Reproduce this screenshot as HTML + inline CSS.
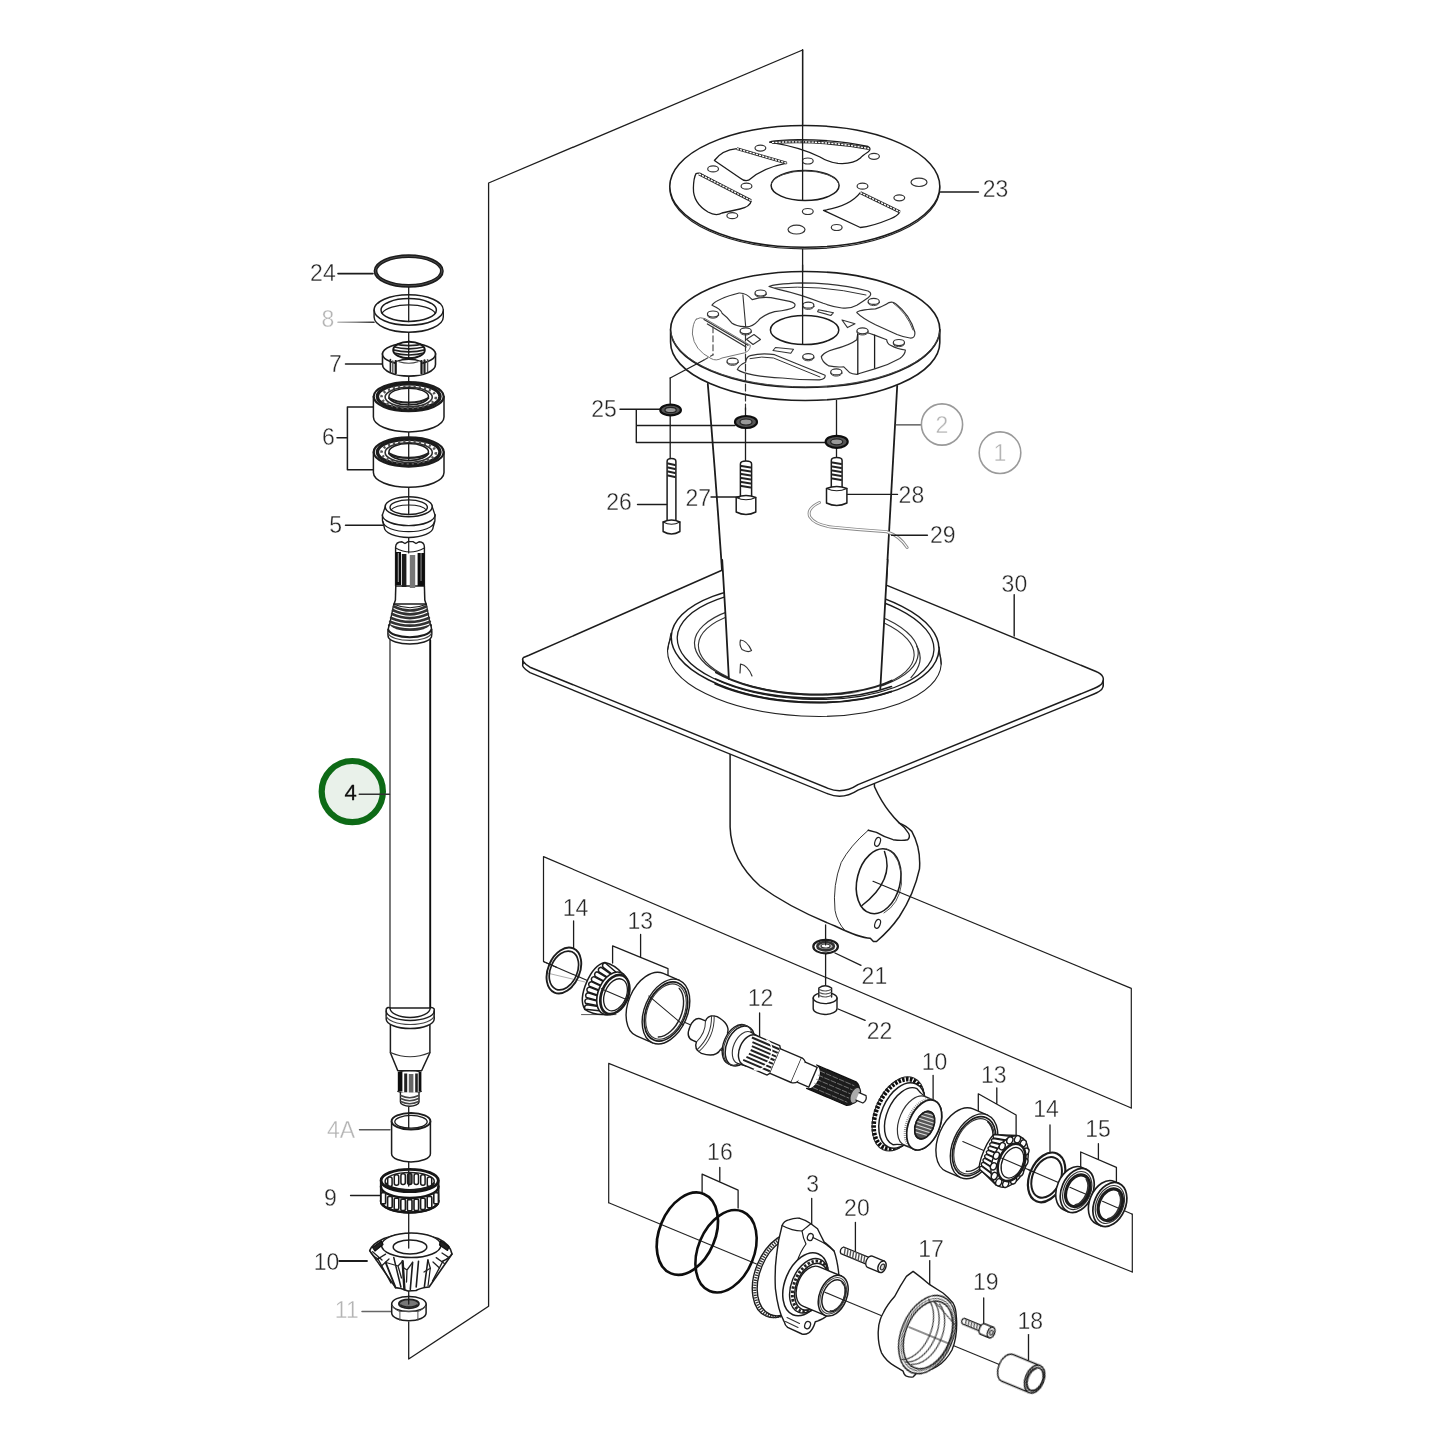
<!DOCTYPE html>
<html><head><meta charset="utf-8"><style>
html,body{margin:0;padding:0;background:#fff;}
svg{display:block;font-family:"Liberation Sans",sans-serif;}
</style></head><body>
<svg width="1445" height="1445" viewBox="0 0 1445 1445" fill="none" stroke-linecap="round" stroke-linejoin="round">
<rect x="0" y="0" width="1445" height="1445" fill="#ffffff" stroke="none"/>
<defs><filter id="soft" x="0" y="0" width="1445" height="1445" filterUnits="userSpaceOnUse"><feGaussianBlur stdDeviation="0.55"/></filter></defs>
<g filter="url(#soft)">
<path d="M802.6,50 L488.6,183 L488.6,1306.3 L408.7,1359 L408.7,1322" stroke="#1c1c1c" stroke-width="1.3" fill="none" />
<line x1="802.6" y1="50" x2="802.6" y2="199.5" stroke="#1c1c1c" stroke-width="1.3" />
<line x1="802.6" y1="247.5" x2="802.6" y2="343.5" stroke="#1c1c1c" stroke-width="1.3" />
<line x1="408.7" y1="287" x2="408.7" y2="322" stroke="#1c1c1c" stroke-width="1.3" />
<line x1="408.7" y1="332" x2="408.7" y2="357" stroke="#1c1c1c" stroke-width="1.3" />
<line x1="408.7" y1="376" x2="408.7" y2="405" stroke="#1c1c1c" stroke-width="1.3" />
<line x1="408.7" y1="432" x2="408.7" y2="461" stroke="#1c1c1c" stroke-width="1.3" />
<line x1="408.7" y1="488" x2="408.7" y2="514" stroke="#1c1c1c" stroke-width="1.3" />
<line x1="408.7" y1="538" x2="408.7" y2="553" stroke="#1c1c1c" stroke-width="1.3" />
<line x1="408.7" y1="1107" x2="408.7" y2="1128" stroke="#1c1c1c" stroke-width="1.3" />
<line x1="408.7" y1="1162" x2="408.7" y2="1186" stroke="#1c1c1c" stroke-width="1.3" />
<line x1="408.7" y1="1213" x2="408.7" y2="1247" stroke="#1c1c1c" stroke-width="1.3" />
<line x1="408.7" y1="1291" x2="408.7" y2="1303" stroke="#1c1c1c" stroke-width="1.3" />
<line x1="338" y1="273.6" x2="373" y2="273.6" stroke="#1c1c1c" stroke-width="1.6" />
<line x1="338" y1="322.3" x2="374" y2="322.3" stroke="url(#g8)" stroke-width="1.6"/>
<defs><linearGradient id="g8" gradientUnits="userSpaceOnUse" x1="338" y1="0" x2="374" y2="0"><stop offset="0" stop-color="#bbb"/><stop offset="0.5" stop-color="#888"/><stop offset="1" stop-color="#333"/></linearGradient></defs>
<line x1="345.5" y1="364" x2="382.7" y2="364" stroke="#1c1c1c" stroke-width="1.5" />
<path d="M337,437.8 L347.4,437.8 M373.7,407 L347.4,407 L347.4,469.7 L373.7,469.7" stroke="#1c1c1c" stroke-width="1.5" fill="none" />
<line x1="345.5" y1="525.3" x2="382.7" y2="525.3" stroke="#1c1c1c" stroke-width="1.5" />
<line x1="359.5" y1="1129.7" x2="390" y2="1129.7" stroke="#555" stroke-width="1.5" />
<line x1="350.6" y1="1195.4" x2="380.7" y2="1195.4" stroke="#1c1c1c" stroke-width="1.5" />
<line x1="338" y1="1261" x2="367" y2="1261" stroke="#1c1c1c" stroke-width="1.8" />
<line x1="362" y1="1311.5" x2="392" y2="1311.5" stroke="#666" stroke-width="1.5" />
<ellipse cx="408.7" cy="271" rx="33.2" ry="14.8" stroke="#1a1a1a" stroke-width="3.8" fill="none" />
<ellipse cx="408.7" cy="271" rx="33.2" ry="14.8" stroke="#777" stroke-width="0.5" fill="none" />
<path d="M374.09999999999997,310 L374.09999999999997,317 A34.6,15.2 0 0 0 443.3,317 L443.3,310" stroke="#1c1c1c" stroke-width="1.4" fill="#fff" />
<ellipse cx="408.7" cy="310" rx="34.6" ry="15.2" stroke="#1c1c1c" stroke-width="1.5" fill="#fff" />
<ellipse cx="408.7" cy="310" rx="27.7" ry="11.4" stroke="#1c1c1c" stroke-width="1.5" fill="none" />
<path d="M382.0,313.2 A27.7,11.4 0 0 1 435.4,313.2" stroke="#1c1c1c" stroke-width="1.2" fill="none" />
<line x1="408.7" y1="295" x2="408.7" y2="321.5" stroke="#1c1c1c" stroke-width="1.3" />
<path d="M382.5,353.5 L382.5,364.5 A26.5,11.6 0 0 0 435.5,364.5 L435.5,353.5" stroke="#1c1c1c" stroke-width="1.6" fill="#fff" />
<ellipse cx="409" cy="354" rx="26.5" ry="10.7" stroke="#1c1c1c" stroke-width="1.6" fill="#fff" />
<ellipse cx="409" cy="350" rx="15.8" ry="8.3" stroke="#151515" stroke-width="1.9" fill="#fff" />
<defs><clipPath id="c7"><ellipse cx="409" cy="350" rx="15.4" ry="8"/></clipPath></defs><g clip-path="url(#c7)">
<path d="M393,343.6 Q409,347.8 425,343.6" stroke="#222" stroke-width="1.7" fill="none" />
<path d="M393,346.7 Q409,350.9 425,346.7" stroke="#222" stroke-width="1.7" fill="none" />
<path d="M393,349.8 Q409,354.0 425,349.8" stroke="#222" stroke-width="1.7" fill="none" />
<path d="M393,352.9 Q409,357.09999999999997 425,352.9" stroke="#222" stroke-width="1.7" fill="none" />
<path d="M393,356 Q409,360.2 425,356" stroke="#222" stroke-width="1.7" fill="none" />
</g>
<rect x="395.7" y="361.5" width="26.6" height="13" fill="#fff" stroke="none"/>
<path d="M395.7,361 L395.7,373.6 M421.5,361 L421.5,373.6" stroke="#151515" stroke-width="2.2" fill="none" />
<path d="M395.7,361.5 Q409,357 421.5,361.5" stroke="#1c1c1c" stroke-width="1.3" fill="none" />
<path d="M399,361.8 Q409,364.8 418,361.8" stroke="#444" stroke-width="1.1" fill="none" />
<path d="M390.4,359.6 L390.4,371.6" stroke="#222" stroke-width="1.6" fill="none" />
<path d="M392.8,361 L392.8,372.6" stroke="#555" stroke-width="1.4" fill="none" />
<path d="M424.5,360.4 L424.5,372.6" stroke="#222" stroke-width="2.2" fill="none" />
<path d="M427.6,359.6 L427.6,371.6" stroke="#555" stroke-width="1.4" fill="none" />
<line x1="408.7" y1="341" x2="408.7" y2="358" stroke="#1c1c1c" stroke-width="1.3" />
<path d="M373.4,396.6 L373.4,417.1 A35.3,14.8 0 0 0 444.0,417.1 L444.0,396.6" stroke="#1c1c1c" stroke-width="1.5" fill="#fff" />
<ellipse cx="408.7" cy="396.6" rx="35.0" ry="14.6" stroke="#1c1c1c" stroke-width="2.2" fill="#fff" />
<ellipse cx="408.7" cy="396.6" rx="31.3" ry="12.8" stroke="#1a1a1a" stroke-width="3.4" fill="none" />
<ellipse cx="408.7" cy="397.1" rx="27.2" ry="11" stroke="#555" stroke-width="2.6" fill="none" stroke-dasharray="2.2 3" stroke-linecap="butt"/>
<ellipse cx="408.7" cy="397.1" rx="23.6" ry="9.8" stroke="#333" stroke-width="1.6" fill="none" />
<ellipse cx="408.7" cy="396.6" rx="19.8" ry="8.4" stroke="#1c1c1c" stroke-width="1.5" fill="#fff" />
<path d="M389.09999999999997,398.1 A23.6,10 0 0 0 428.3,398.1" stroke="#222" stroke-width="2.2" fill="none" />
<line x1="408.7" y1="388.20000000000005" x2="408.7" y2="405.0" stroke="#1c1c1c" stroke-width="1.3" />
<path d="M373.4,452 L373.4,472.5 A35.3,14.8 0 0 0 444.0,472.5 L444.0,452" stroke="#1c1c1c" stroke-width="1.5" fill="#fff" />
<ellipse cx="408.7" cy="452" rx="35.0" ry="14.6" stroke="#1c1c1c" stroke-width="2.2" fill="#fff" />
<ellipse cx="408.7" cy="452" rx="31.3" ry="12.8" stroke="#1a1a1a" stroke-width="3.4" fill="none" />
<ellipse cx="408.7" cy="452.5" rx="27.2" ry="11" stroke="#555" stroke-width="2.6" fill="none" stroke-dasharray="2.2 3" stroke-linecap="butt"/>
<ellipse cx="408.7" cy="452.5" rx="23.6" ry="9.8" stroke="#333" stroke-width="1.6" fill="none" />
<ellipse cx="408.7" cy="452" rx="19.8" ry="8.4" stroke="#1c1c1c" stroke-width="1.5" fill="#fff" />
<path d="M389.09999999999997,453.5 A23.6,10 0 0 0 428.3,453.5" stroke="#222" stroke-width="2.2" fill="none" />
<line x1="408.7" y1="443.6" x2="408.7" y2="460.4" stroke="#1c1c1c" stroke-width="1.3" />
<path d="M382.4,515 Q381.7,521 384.2,527 A24.5,10.5 0 0 0 433.2,527 Q435.7,521 435.0,515" stroke="#1c1c1c" stroke-width="1.4" fill="#fff" />
<path d="M383.09999999999997,521.5 A25.6,10.2 0 0 0 434.3,521.5" stroke="#1c1c1c" stroke-width="1.2" fill="none" />
<path d="M382.4,515 A26.3,10.6 0 0 0 435.0,515" stroke="#1c1c1c" stroke-width="1.4" fill="#fff" />
<path d="M385.2,506.7 L382.4,515 M432.2,506.7 L435.0,515" stroke="#1c1c1c" stroke-width="1.3" fill="none" />
<ellipse cx="408.7" cy="506.7" rx="23.5" ry="10" stroke="#1c1c1c" stroke-width="1.5" fill="#fff" />
<ellipse cx="408.7" cy="507.2" rx="18.7" ry="7.3" stroke="#1c1c1c" stroke-width="1.4" fill="none" />
<path d="M390.9,510 A18.7,7.3 0 0 1 426.5,510" stroke="#1c1c1c" stroke-width="1.1" fill="none" />
<line x1="408.7" y1="497" x2="408.7" y2="514.5" stroke="#1c1c1c" stroke-width="1.3" />
<path d="M395.6,586 L395.6,547 Q395.8,542 402,541.8 L405,543.5 L408,541.6 L413,541.6 L416,543.5 L419,541.8 Q424.3,542 424.4,547 L424.4,586 Z" stroke="#1c1c1c" stroke-width="1.4" fill="#fff" />
<path d="M395.6,548 Q410.0,556 424.4,548" stroke="#1c1c1c" stroke-width="1.2" fill="none" />
<rect x="395.6" y="552" width="5.4" height="33" fill="#111" stroke="none"/>
<rect x="397.8" y="553" width="0.9" height="29" fill="#bbb" stroke="none"/>
<rect x="401.8" y="554" width="4.6" height="33" fill="#1a1a1a" stroke="none"/>
<rect x="409.8" y="555" width="5.4" height="33" fill="#777" stroke="none"/>
<rect x="417.6" y="553" width="6.8" height="33" fill="#111" stroke="none"/>
<rect x="420.6" y="553" width="0.9" height="28" fill="#999" stroke="none"/>
<line x1="408.7" y1="541" x2="408.7" y2="553" stroke="#1c1c1c" stroke-width="1.2" />
<path d="M395.8,586 L395.4,600 L393.8,605 M424.4,586 L424.8,600 L426.3,605" stroke="#1c1c1c" stroke-width="1.5" fill="none" />
<path d="M393.8,604 L388.5,630 L431.2,630 L426.3,604 Z" stroke="#1c1c1c" stroke-width="1.3" fill="#fff" />
<path d="M394.5,604.5 Q410,611 425.8,604.5" stroke="#1c1c1c" stroke-width="1.2" fill="none" />
<path d="M394.0,606.5 Q410.0,614.5 426.0,606.5" stroke="#333" stroke-width="2.7" fill="none" />
<path d="M393.05,610.3 Q410.0,618.3 426.95,610.3" stroke="#333" stroke-width="2.7" fill="none" />
<path d="M392.1,614.1 Q410.0,622.1 427.9,614.1" stroke="#333" stroke-width="2.7" fill="none" />
<path d="M391.15,617.9 Q410.0,625.9 428.85,617.9" stroke="#333" stroke-width="2.7" fill="none" />
<path d="M390.2,621.7 Q410.0,629.7 429.8,621.7" stroke="#333" stroke-width="2.7" fill="none" />
<path d="M389.25,625.5 Q410.0,633.5 430.75,625.5" stroke="#333" stroke-width="2.7" fill="none" />
<rect x="390" y="640" width="40" height="370" fill="#fff" stroke="none"/>
<path d="M390,640 L390,1009" stroke="#333" stroke-width="1.3" fill="none" />
<path d="M430.2,640 L430.2,1009" stroke="#111" stroke-width="1.9" fill="none" />
<path d="M389.6,624 Q387.2,631 388.2,637 A21.8,8 0 0 0 431.4,637 Q432.6,631 430.4,624 A20.5,8 0 0 1 389.6,624 Z" stroke="#fff" stroke-width="0.01" fill="#fff" />
<path d="M389.6,624 Q387.2,631 388.2,637 A21.8,8 0 0 0 431.4,637 Q432.6,631 430.4,624" stroke="#1c1c1c" stroke-width="1.5" fill="none" />
<path d="M388.2,629.5 A21.7,8.5 0 0 0 431.4,629.5" stroke="#1c1c1c" stroke-width="2.0" fill="none" />
<path d="M388.3,633.5 A21.7,8 0 0 0 431.3,633.5" stroke="#444" stroke-width="1.1" fill="none" />
<path d="M390.4,1025 L390.4,1052.7 L397.8,1070.7 L421.6,1070.7 L429.9,1052.7 L429.9,1025" stroke="#1c1c1c" stroke-width="1.5" fill="#fff" />
<path d="M390.4,1052.5 Q410,1061 429.9,1052.5" stroke="#333" stroke-width="1.2" fill="none" />
<path d="M397.8,1070.5 Q409.7,1075 421.6,1070.5" stroke="#1c1c1c" stroke-width="1.3" fill="none" />
<path d="M386.2,1009 L386.2,1019 A24,9.5 0 0 0 434.2,1019 L434.2,1009 Q432,1006.5 430.2,1008 L390,1008 Q388,1006.5 386.2,1009 Z" stroke="#1c1c1c" stroke-width="1.5" fill="#fff" />
<path d="M390,1008 A20.1,9.5 0 0 0 430.2,1008" stroke="#1c1c1c" stroke-width="1.4" fill="none" />
<path d="M386.2,1011 A24,9.5 0 0 0 434.2,1011" stroke="#1c1c1c" stroke-width="1.4" fill="none" />
<path d="M386.2,1015 A24,9.5 0 0 0 434.2,1015" stroke="#444" stroke-width="1.1" fill="none" />
<rect x="397.8" y="1072" width="23.4" height="19.5" fill="#fff" stroke="none"/>
<rect x="397.8" y="1072" width="4.6" height="19.5" fill="#111" stroke="none"/>
<rect x="404.2" y="1073.5" width="3" height="19" fill="#222" stroke="none"/>
<rect x="408.8" y="1074" width="4.6" height="19" fill="#666" stroke="none"/>
<rect x="415.2" y="1073.5" width="2.6" height="19" fill="#222" stroke="none"/>
<rect x="418.6" y="1072" width="2.8" height="19.5" fill="#111" stroke="none"/>
<path d="M397.8,1091.5 Q409.5,1096 421.2,1091.5" stroke="#1c1c1c" stroke-width="1.3" fill="none" />
<path d="M400.4,1092.5 L400.4,1102 A9.3,4.2 0 0 0 419,1102 L419,1092.5" stroke="#1c1c1c" stroke-width="1.4" fill="#fff" />
<path d="M400.8,1095.5 Q409.7,1100.0 418.6,1095.5" stroke="#444" stroke-width="1.5" fill="none" />
<path d="M400.8,1098.5 Q409.7,1103.0 418.6,1098.5" stroke="#444" stroke-width="1.5" fill="none" />
<path d="M400.8,1101.5 Q409.7,1106.0 418.6,1101.5" stroke="#444" stroke-width="1.5" fill="none" />
<circle cx="352.3" cy="791.6" r="30.6" fill="#e9f1ea" stroke="#0f6a18" stroke-width="6.2"/>
<line x1="359.2" y1="794.2" x2="389.5" y2="794.2" stroke="#333" stroke-width="1.4" />
<path d="M391.6,1121.3 L391.6,1153.7 A19.4,8.3 0 0 0 430.4,1153.7 L430.4,1121.3" stroke="#1c1c1c" stroke-width="1.5" fill="#fff" />
<ellipse cx="411" cy="1121.3" rx="19.4" ry="8.3" stroke="#1c1c1c" stroke-width="2" fill="#fff" />
<ellipse cx="411" cy="1121.8" rx="16.2" ry="6.4" stroke="#1c1c1c" stroke-width="1.3" fill="none" />
<line x1="408.7" y1="1113" x2="408.7" y2="1128" stroke="#1c1c1c" stroke-width="1.3" />
<path d="M380.9,1180.5 L380.9,1201 A28.8,11.5 0 0 0 438.5,1201 L438.5,1180.5" stroke="#1c1c1c" stroke-width="2.0" fill="#fff" />
<ellipse cx="409.7" cy="1180.5" rx="28.6" ry="11.2" stroke="#151515" stroke-width="2.8" fill="#fff" />
<ellipse cx="409.7" cy="1181.2" rx="24.6" ry="8.6" stroke="#222" stroke-width="1.5" fill="#fff" />
<rect x="387.7" y="1176.9" width="4.4" height="9.6" rx="2" fill="#fff" stroke="#1a1a1a" stroke-width="1.5"/>
<rect x="394.3" y="1174.7" width="4.4" height="10.5" rx="2" fill="#fff" stroke="#1a1a1a" stroke-width="1.5"/>
<rect x="400.9" y="1173.7" width="4.4" height="10.9" rx="2" fill="#fff" stroke="#1a1a1a" stroke-width="1.5"/>
<rect x="407.5" y="1173.4" width="4.4" height="11.0" rx="2" fill="#555" stroke="#1a1a1a" stroke-width="1.5"/>
<rect x="414.1" y="1173.7" width="4.4" height="10.9" rx="2" fill="#fff" stroke="#1a1a1a" stroke-width="1.5"/>
<rect x="420.7" y="1174.7" width="4.4" height="10.5" rx="2" fill="#fff" stroke="#1a1a1a" stroke-width="1.5"/>
<rect x="427.3" y="1176.9" width="4.4" height="9.6" rx="2" fill="#fff" stroke="#1a1a1a" stroke-width="1.5"/>
<path d="M385.5,1183.2 A24.6,8.6 0 0 0 433.9,1183.2" stroke="#1a1a1a" stroke-width="2.0" fill="none" />
<path d="M380.9,1186.5 A28.8,11.5 0 0 0 438.5,1186.5" stroke="#151515" stroke-width="2.4" fill="none" />
<path d="M380.9,1201 A28.8,11.5 0 0 0 438.5,1201" stroke="#151515" stroke-width="2.4" fill="none" />
<rect x="381.0" y="1192.7" width="4.6" height="11.2" rx="1.2" fill="#fff" stroke="#1a1a1a" stroke-width="1.6"/>
<rect x="387.6" y="1196.5" width="4.6" height="11.2" rx="1.2" fill="#fff" stroke="#1a1a1a" stroke-width="1.6"/>
<rect x="394.2" y="1198.3" width="4.6" height="11.2" rx="1.2" fill="#fff" stroke="#1a1a1a" stroke-width="1.6"/>
<rect x="400.8" y="1199.3" width="4.6" height="11.2" rx="1.2" fill="#fff" stroke="#1a1a1a" stroke-width="1.6"/>
<rect x="407.4" y="1199.6" width="4.6" height="11.2" rx="1.2" fill="#fff" stroke="#1a1a1a" stroke-width="1.6"/>
<rect x="414.0" y="1199.3" width="4.6" height="11.2" rx="1.2" fill="#fff" stroke="#1a1a1a" stroke-width="1.6"/>
<rect x="420.6" y="1198.3" width="4.6" height="11.2" rx="1.2" fill="#fff" stroke="#1a1a1a" stroke-width="1.6"/>
<rect x="427.2" y="1196.5" width="4.6" height="11.2" rx="1.2" fill="#fff" stroke="#1a1a1a" stroke-width="1.6"/>
<rect x="433.8" y="1192.7" width="4.6" height="11.2" rx="1.2" fill="#fff" stroke="#1a1a1a" stroke-width="1.6"/>
<line x1="408.7" y1="1170" x2="408.7" y2="1186" stroke="#1c1c1c" stroke-width="1.3" />
<path d="M369.7,1250.6 Q372,1244 384,1238.5 Q410,1229 438,1238.5 Q450,1244 452,1254 L429.1,1287 Q420,1288 416,1290.5 L407.9,1291 L400.9,1288.5 L395.6,1287.6 Z" stroke="#1c1c1c" stroke-width="1.6" fill="#fff" />
<ellipse cx="411.2" cy="1245.3" rx="29.7" ry="12.3" stroke="#1c1c1c" stroke-width="1.5" fill="#fff" />
<ellipse cx="410" cy="1247" rx="16.8" ry="7" stroke="#1c1c1c" stroke-width="1.5" fill="#fff" />
<path d="M372.5,1247.5 L381.5,1241 L383,1244.5 L375,1251 Z" stroke="#111" stroke-width="1.2" fill="#222" />
<path d="M440.5,1241 L449,1246.5 L447.5,1250.5 L439.5,1245 Z" stroke="#111" stroke-width="1.2" fill="#222" />
<path d="M369.7,1250.6 Q372,1256 378,1259 M452,1254 Q449,1258.5 443,1261" stroke="#1c1c1c" stroke-width="1.4" fill="none" />
<path d="M385.6,1262.4 L395.6,1287.6" stroke="#1a1a1a" stroke-width="1.8" fill="none" />
<path d="M393.8,1257.6 L400.9,1287" stroke="#1a1a1a" stroke-width="1.5" fill="none" />
<path d="M402.6,1261.2 L404.4,1289.4" stroke="#1a1a1a" stroke-width="2.4" fill="none" />
<path d="M412.6,1262.4 L410.3,1289.4" stroke="#1a1a1a" stroke-width="1.6" fill="none" />
<path d="M418.5,1261.2 L416.2,1287" stroke="#1a1a1a" stroke-width="1.6" fill="none" />
<path d="M427.9,1260 L424.4,1286.5" stroke="#1a1a1a" stroke-width="1.6" fill="none" />
<path d="M430.3,1268.2 L428,1286" stroke="#1a1a1a" stroke-width="1.2" fill="none" />
<path d="M378,1259 L391,1283" stroke="#1a1a1a" stroke-width="1.4" fill="none" />
<path d="M443,1261 L432.5,1281" stroke="#1a1a1a" stroke-width="1.4" fill="none" />
<path d="M372.6,1251.8 L382,1260 M376.2,1260 L385.6,1254.1 M381.5,1266 L389,1259 M386,1262.5 L398,1266 L402.6,1261.2 M398,1266 L401.5,1278" stroke="#222" stroke-width="1.3" fill="none" />
<path d="M436.2,1257.6 L444.4,1263.5 M442,1253 L449.1,1257.6 M433,1262 L439.5,1268 M427.9,1260 L430.3,1268.2 L424,1272 M412.6,1262.4 L407,1270 L404,1268 M407,1270 L406.5,1282" stroke="#222" stroke-width="1.3" fill="none" />
<path d="M381.5,1241 Q395,1262 411,1259.5 Q428,1260 440.5,1241" stroke="none" stroke-width="0.01" fill="none" />
<line x1="408.7" y1="1233" x2="408.7" y2="1248" stroke="#1c1c1c" stroke-width="1.3" />
<path d="M391.7,1304 L391.7,1313 A17.2,7.8 0 0 0 426.09999999999997,1313 L426.09999999999997,1304" stroke="#1c1c1c" stroke-width="1.5" fill="#fff" />
<ellipse cx="408.9" cy="1304" rx="17.2" ry="7.6" stroke="#1c1c1c" stroke-width="1.5" fill="#fff" />
<ellipse cx="408.9" cy="1303.8" rx="10" ry="4.5" stroke="#222" stroke-width="1.8" fill="#777" />
<path d="M400.9,1305 A9,3.6 0 0 0 416.9,1305" stroke="#222" stroke-width="1.4" fill="none" />
<path d="M399.9,1311.4 L399.9,1320.5 M417.9,1311.4 L417.9,1320.5" stroke="#555" stroke-width="1.0" fill="none" />
<path d="M391.9,1306 Q396.9,1311 399.9,1311.4 L417.9,1311.4 Q420.9,1311 425.9,1306" stroke="#555" stroke-width="1.0" fill="none" />
<line x1="408.7" y1="1296" x2="408.7" y2="1304" stroke="#1c1c1c" stroke-width="1.3" />
<ellipse cx="804.8" cy="188.0" rx="135" ry="60.9" stroke="#222" stroke-width="1.2" fill="#fff" />
<ellipse cx="804.8" cy="186.4" rx="135" ry="60.9" stroke="#1c1c1c" stroke-width="1.5" fill="#fff" />
<ellipse cx="805.1" cy="185.5" rx="34" ry="15" stroke="#1c1c1c" stroke-width="1.5" fill="none" />
<path d="M771.5,183.5 A34,15 0 0 1 838.6,183.5" stroke="#444" stroke-width="1.0" fill="none" />
<ellipse cx="760.4" cy="148.1" rx="5.4" ry="3" stroke="#333" stroke-width="1.2" fill="#fff" />
<ellipse cx="713.1" cy="168.9" rx="5.4" ry="3" stroke="#333" stroke-width="1.2" fill="#fff" />
<ellipse cx="746.5" cy="186.2" rx="5.4" ry="3" stroke="#333" stroke-width="1.2" fill="#fff" />
<ellipse cx="732.3" cy="215.7" rx="5.4" ry="3" stroke="#333" stroke-width="1.2" fill="#fff" />
<ellipse cx="807.8" cy="161" rx="5.4" ry="3" stroke="#333" stroke-width="1.2" fill="#fff" />
<ellipse cx="874" cy="156.3" rx="5.4" ry="3" stroke="#333" stroke-width="1.2" fill="#fff" />
<ellipse cx="862.5" cy="186.2" rx="5.4" ry="3" stroke="#333" stroke-width="1.2" fill="#fff" />
<ellipse cx="899.3" cy="197.8" rx="5.4" ry="3" stroke="#333" stroke-width="1.2" fill="#fff" />
<ellipse cx="807.8" cy="211.5" rx="5.4" ry="3" stroke="#333" stroke-width="1.2" fill="#fff" />
<ellipse cx="836.7" cy="227.5" rx="5.4" ry="3" stroke="#333" stroke-width="1.2" fill="#fff" />
<ellipse cx="919" cy="182.3" rx="8" ry="4.2" stroke="#333" stroke-width="1.2" fill="#fff" />
<ellipse cx="796.5" cy="229.6" rx="8.5" ry="4.4" stroke="#333" stroke-width="1.2" fill="#fff" />
<path d="M714.4,160.5 Q722,150 736.8,148.6 L786.7,163.1 Q762,168 748.6,180.2 Q744,181.5 740,178 Z" stroke="#1c1c1c" stroke-width="1.3" fill="none" />
<path d="M736.8,148.6 L786.7,163.1" stroke="#2a2a2a" stroke-width="3.0" fill="none" stroke-linecap="butt"/>
<path d="M736.8,148.6 L786.7,163.1" stroke="#fff" stroke-width="1.3" fill="none" stroke-dasharray="2.2 1.1" stroke-linecap="butt"/>
<path d="M696,173.6 Q699,172.5 702,174.5 L751.2,201.2 Q750,207 740,209 L722,213 Q716,216.5 708,212 Q693,203 693.4,188 Q693.6,178 696,173.6 Z" stroke="#1c1c1c" stroke-width="1.3" fill="none" />
<path d="M699,173.8 L751,200.6" stroke="#2a2a2a" stroke-width="3.0" fill="none" stroke-linecap="butt"/>
<path d="M699,173.8 L751,200.6" stroke="#fff" stroke-width="1.3" fill="none" stroke-dasharray="2.2 1.1" stroke-linecap="butt"/>
<path d="M769.6,142.1 Q772,140.4 790,139.8 Q835,139 868,146.5 Q872,148.5 868,152 Q862,156 860.4,158 Q853,164.5 838,163.4 Q828,162 820,157 Q800,147 769.6,142.1 Z" stroke="#1c1c1c" stroke-width="1.3" fill="none" />
<path d="M772,142.6 Q820,139.5 869,148.5" stroke="#2a2a2a" stroke-width="3.0" fill="none" stroke-linecap="butt"/>
<path d="M772,142.6 Q820,139.5 869,148.5" stroke="#fff" stroke-width="1.3" fill="none" stroke-dasharray="2.2 1.1" stroke-linecap="butt"/>
<path d="M823.5,210.4 Q850,206 860.3,192.6 L899.8,211.8 Q898,216 890,219 Q872,226.5 860.3,227.5 Z" stroke="#1c1c1c" stroke-width="1.3" fill="none" />
<path d="M860.3,192.6 L899.8,211.8" stroke="#2a2a2a" stroke-width="3.0" fill="none" stroke-linecap="butt"/>
<path d="M860.3,192.6 L899.8,211.8" stroke="#fff" stroke-width="1.3" fill="none" stroke-dasharray="2.2 1.1" stroke-linecap="butt"/>
<line x1="940" y1="192" x2="978.5" y2="192" stroke="#1c1c1c" stroke-width="1.4" />
<path d="M707.8,384 Q720,520 728.8,678 L880.3,689 L897.2,386 Z" stroke="#fff" stroke-width="0.01" fill="#fff" />
<path d="M707.8,384 Q719.5,520 728.8,678" stroke="#1c1c1c" stroke-width="1.8" fill="none" />
<path d="M897.2,386 L880.3,689" stroke="#1c1c1c" stroke-width="1.8" fill="none" />
<path d="M670.6,329.5 L670.6,342.5 A134.6,58 0 0 0 939.8000000000001,342.5 L939.8000000000001,329.5" stroke="#1c1c1c" stroke-width="1.6" fill="#fff" />
<ellipse cx="805.2" cy="329.5" rx="134.6" ry="58" stroke="#1c1c1c" stroke-width="1.6" fill="#fff" />
<path d="M670.8000000000001,332.0 A134.6,58 0 0 0 939.6,332.0" stroke="#444" stroke-width="1.0" fill="none" />
<ellipse cx="804.6" cy="330" rx="34.2" ry="14.5" stroke="#1c1c1c" stroke-width="1.5" fill="none" />
<path d="M712,305.2 Q716,299 739.1,293 Q746,292.6 752.2,299.6 Q762,296.5 770.9,297.7 L789.6,301.4 Q797,303 794.3,307 Q790,310 774.6,311.7 Q763,315 757.8,321.1 Q752,327.5 744.7,326.7 Q736,326 731.7,322.9 Q727,317 722.3,313.6 Q721,309 712,305.2 Z" stroke="#333" stroke-width="1.2" fill="none" />
<path d="M742.9,294.9 L745.7,326.7" stroke="#333" stroke-width="1.1" fill="none" />
<path d="M696.2,319.2 Q700,316.5 705,318.6 L750.3,345.3 Q750.5,350.5 744.7,352.8 L722,358 Q716,361.5 711,358.5 Q694,350 692.4,334 Q692.6,323 696.2,319.2 Z" stroke="#777" stroke-width="1.0" fill="none" />
<path d="M704,319.5 L748,345.2 M707.4,324 L746,347" stroke="#333" stroke-width="1.3" fill="none" />
<path d="M713,326.7 L713,355" stroke="#444" stroke-width="1.1" fill="none" stroke-dasharray="6 3"/>
<path d="M769,286.5 Q773,284 800.8,282.8 Q838,283 868,291 Q873.5,293.5 868.1,297.7 Q862,302 856.8,305.2 Q850,309 841.9,308 Q832,306.5 823.2,303.3 Q800,294 778.4,289.3 Z" stroke="#333" stroke-width="1.2" fill="none" />
<path d="M775,288 Q820,284.5 866,295" stroke="#333" stroke-width="1.0" fill="none" />
<path d="M856.8,312.6 Q858,310 875.5,308.9 Q884,306 889,302.6 Q892.4,301 896,304 Q910,315 914.8,332 Q915.5,338.5 910,338 Q903,337 897,334.5 L875.5,324.8 Q862,318 856.8,312.6 Z" stroke="#333" stroke-width="1.2" fill="none" />
<path d="M892.4,302.4 Q907,313 913,330" stroke="#555" stroke-width="1.0" fill="none" />
<path d="M821.3,356.6 Q824,352 834.4,349.1 Q850,345 856.8,339.7 L857.8,333.5 Q866,331 874.6,335.1 L886.7,339.7 Q887,343.5 890.5,345.3 Q898,349.5 905.4,350 Q905,355 899.8,358.4 Q888,365 875.5,368.7 L856.8,374.3 Q852,374 849.4,372.4 L843.8,366.8 Q836,367.5 828.8,365.9 Q822,362 821.3,356.6 Z" stroke="#333" stroke-width="1.2" fill="none" />
<path d="M857.8,333.2 L857.8,374.3 M874.6,335.1 L874.6,368" stroke="#1c1c1c" stroke-width="1.3" fill="none" />
<path d="M745.7,362.2 Q746,357 750.3,355.6 Q762,352.5 774.6,354.7 L825.1,375.2 Q826,379 819.5,379.9 Q800,380 782.1,378 Q766,377.5 754.1,375.2 Q742,373 737.3,369.6 Q739,365 745.7,362.2 Z" stroke="#333" stroke-width="1.2" fill="none" />
<path d="M750,358.6 Q762,355.8 773.5,358 L820,377" stroke="#333" stroke-width="1.0" fill="none" />
<path d="M746.5,339.3 L754,334.5 L760.5,339.5 L753,344.5 Z" stroke="#333" stroke-width="1.1" fill="none" />
<path d="M775.5,347.5 L793.5,349.2 L790.8,353.2 L773,350.5 Z" stroke="#333" stroke-width="1.1" fill="none" />
<path d="M818.5,309.8 L833.5,312.7 L830.8,315.5 L817.6,311.7 Z" stroke="#333" stroke-width="1.1" fill="none" />
<path d="M842,320 L855,323.8 L847.5,327.6 Z" stroke="#333" stroke-width="1.1" fill="none" />
<ellipse cx="760.6" cy="294.2" rx="5.6" ry="3" stroke="#444" stroke-width="1.0" fill="#fff" />
<ellipse cx="760.6" cy="293" rx="5.6" ry="3" stroke="#333" stroke-width="1.2" fill="#fff" />
<ellipse cx="713" cy="315.2" rx="5.6" ry="3" stroke="#444" stroke-width="1.0" fill="#fff" />
<ellipse cx="713" cy="314" rx="5.6" ry="3" stroke="#333" stroke-width="1.2" fill="#fff" />
<ellipse cx="745.7" cy="332.0" rx="5.6" ry="3" stroke="#444" stroke-width="1.0" fill="#fff" />
<ellipse cx="745.7" cy="330.8" rx="5.6" ry="3" stroke="#333" stroke-width="1.2" fill="#fff" />
<ellipse cx="732.6" cy="362.4" rx="5.6" ry="3" stroke="#444" stroke-width="1.0" fill="#fff" />
<ellipse cx="732.6" cy="361.2" rx="5.6" ry="3" stroke="#333" stroke-width="1.2" fill="#fff" />
<ellipse cx="808.3" cy="306.4" rx="5.6" ry="3" stroke="#444" stroke-width="1.0" fill="#fff" />
<ellipse cx="808.3" cy="305.2" rx="5.6" ry="3" stroke="#333" stroke-width="1.2" fill="#fff" />
<ellipse cx="873.7" cy="302.59999999999997" rx="5.6" ry="3" stroke="#444" stroke-width="1.0" fill="#fff" />
<ellipse cx="873.7" cy="301.4" rx="5.6" ry="3" stroke="#333" stroke-width="1.2" fill="#fff" />
<ellipse cx="862.5" cy="332.0" rx="5.6" ry="3" stroke="#444" stroke-width="1.0" fill="#fff" />
<ellipse cx="862.5" cy="330.8" rx="5.6" ry="3" stroke="#333" stroke-width="1.2" fill="#fff" />
<ellipse cx="898.9" cy="343.7" rx="5.6" ry="3" stroke="#444" stroke-width="1.0" fill="#fff" />
<ellipse cx="898.9" cy="342.5" rx="5.6" ry="3" stroke="#333" stroke-width="1.2" fill="#fff" />
<ellipse cx="808.3" cy="357.8" rx="5.6" ry="3" stroke="#444" stroke-width="1.0" fill="#fff" />
<ellipse cx="808.3" cy="356.6" rx="5.6" ry="3" stroke="#333" stroke-width="1.2" fill="#fff" />
<ellipse cx="836.3" cy="373.09999999999997" rx="5.6" ry="3" stroke="#444" stroke-width="1.0" fill="#fff" />
<ellipse cx="836.3" cy="371.9" rx="5.6" ry="3" stroke="#333" stroke-width="1.2" fill="#fff" />
<line x1="802.6" y1="265" x2="802.6" y2="343.8" stroke="#1c1c1c" stroke-width="1.3" />
<path d="M670.2,378 L703.6,360.3" stroke="#1c1c1c" stroke-width="1.3" fill="none" />
<path d="M703.6,360.3 L713,354.7" stroke="#444" stroke-width="1.1" fill="none" stroke-dasharray="5 3"/>
<line x1="670.2" y1="378" x2="670.2" y2="459" stroke="#1c1c1c" stroke-width="1.3" />
<path d="M745.5,334 L745.5,410" stroke="#333" stroke-width="1.2" fill="none" stroke-dasharray="7 3"/>
<line x1="745.5" y1="408" x2="745.5" y2="461" stroke="#1c1c1c" stroke-width="1.3" />
<line x1="836.5" y1="400.5" x2="836.5" y2="457" stroke="#1c1c1c" stroke-width="1.3" />
<path d="M620,409.3 L661,409.3 M636.3,409.3 L636.3,442.5 L826,442.5 M636.3,425.5 L735,425.5" stroke="#1c1c1c" stroke-width="1.4" fill="none" />
<ellipse cx="670.6" cy="410" rx="10.3" ry="5.4" stroke="#111" stroke-width="2.2" fill="#555" />
<ellipse cx="670.6" cy="410" rx="5.665000000000001" ry="2.7" stroke="#222" stroke-width="1.2" fill="#999" />
<ellipse cx="746" cy="422" rx="11" ry="6" stroke="#111" stroke-width="2.2" fill="#555" />
<ellipse cx="746" cy="422" rx="6.050000000000001" ry="3.0" stroke="#222" stroke-width="1.2" fill="#999" />
<ellipse cx="836.7" cy="441.8" rx="11" ry="6" stroke="#111" stroke-width="2.2" fill="#555" />
<ellipse cx="836.7" cy="441.8" rx="6.050000000000001" ry="3.0" stroke="#222" stroke-width="1.2" fill="#999" />
<path d="M667.1,522 L667.1,461.5 Q667.1,458.5 671.5,458.5 Q675.9,458.5 675.9,461.5 L675.9,522" stroke="#1c1c1c" stroke-width="1.5" fill="#fff" />
<path d="M668.1,463.5 L674.9,465.0" stroke="#222" stroke-width="1.8" fill="none" />
<path d="M668.1,467.5 L674.9,469.0" stroke="#222" stroke-width="1.8" fill="none" />
<path d="M668.1,471.5 L674.9,473.0" stroke="#222" stroke-width="1.8" fill="none" />
<path d="M668.1,475.5 L674.9,477.0" stroke="#222" stroke-width="1.8" fill="none" />
<path d="M663.1,522 L663.1,531.5 Q671.5,536.5 679.9,531.5 L679.9,522 Q671.5,518 663.1,522 Z" stroke="#1c1c1c" stroke-width="1.5" fill="#fff" />
<path d="M663.1,522 Q671.5,526.5 679.9,522" stroke="#1c1c1c" stroke-width="1.2" fill="none" />
<path d="M740.4,497.5 L740.4,464 Q740.4,461 746,461 Q751.6,461 751.6,464 L751.6,497.5" stroke="#1c1c1c" stroke-width="1.5" fill="#fff" />
<path d="M741.4,466 L750.6,467.5" stroke="#222" stroke-width="1.8" fill="none" />
<path d="M741.4,470 L750.6,471.5" stroke="#222" stroke-width="1.8" fill="none" />
<path d="M741.4,474 L750.6,475.5" stroke="#222" stroke-width="1.8" fill="none" />
<path d="M741.4,478 L750.6,479.5" stroke="#222" stroke-width="1.8" fill="none" />
<path d="M741.4,482 L750.6,483.5" stroke="#222" stroke-width="1.8" fill="none" />
<path d="M741.4,486 L750.6,487.5" stroke="#222" stroke-width="1.8" fill="none" />
<path d="M736.2,497.5 L736.2,512.0 Q746,517.0 755.8,512.0 L755.8,497.5 Q746,493.5 736.2,497.5 Z" stroke="#1c1c1c" stroke-width="1.5" fill="#fff" />
<path d="M736.2,497.5 Q746,502.0 755.8,497.5" stroke="#1c1c1c" stroke-width="1.2" fill="none" />
<path d="M831.3000000000001,488.5 L831.3000000000001,460.5 Q831.3000000000001,457.5 836.7,457.5 Q842.1,457.5 842.1,460.5 L842.1,488.5" stroke="#1c1c1c" stroke-width="1.5" fill="#fff" />
<path d="M832.3000000000001,462.5 L841.1,464.0" stroke="#222" stroke-width="1.8" fill="none" />
<path d="M832.3000000000001,466.5 L841.1,468.0" stroke="#222" stroke-width="1.8" fill="none" />
<path d="M832.3000000000001,470.5 L841.1,472.0" stroke="#222" stroke-width="1.8" fill="none" />
<path d="M832.3000000000001,474.5 L841.1,476.0" stroke="#222" stroke-width="1.8" fill="none" />
<path d="M832.3000000000001,478.5 L841.1,480.0" stroke="#222" stroke-width="1.8" fill="none" />
<path d="M826.5,488.5 L826.5,503.0 Q836.7,508.0 846.9000000000001,503.0 L846.9000000000001,488.5 Q836.7,484.5 826.5,488.5 Z" stroke="#1c1c1c" stroke-width="1.5" fill="#fff" />
<path d="M826.5,488.5 Q836.7,493.0 846.9000000000001,488.5" stroke="#1c1c1c" stroke-width="1.2" fill="none" />
<line x1="637.5" y1="504.5" x2="666.5" y2="504.5" stroke="#1c1c1c" stroke-width="1.4" />
<line x1="711" y1="497" x2="739.5" y2="497" stroke="#1c1c1c" stroke-width="1.4" />
<line x1="847.5" y1="494.4" x2="897.5" y2="494.4" stroke="#1c1c1c" stroke-width="1.4" />
<line x1="896" y1="424.9" x2="921" y2="424.9" stroke="#444" stroke-width="1.3" />
<circle cx="942" cy="424.5" r="20.6" fill="#fff" stroke="#9a9a9a" stroke-width="1.6"/>
<circle cx="1000" cy="452.7" r="20.8" fill="#fff" stroke="#9a9a9a" stroke-width="1.6"/>
<path d="M819.4,502.5 Q806,509 810,517 Q815,525 833,527.2 Q860,530 886.8,531.7 Q900,536 907.1,547.5" stroke="#8a8a8a" stroke-width="3.0" fill="none" />
<path d="M819.4,502.5 Q806,509 810,517 Q815,525 833,527.2 Q860,530 886.8,531.7 Q900,536 907.1,547.5" stroke="#fff" stroke-width="1.2" fill="none" />
<line x1="891.6" y1="535.3" x2="927.4" y2="535.3" stroke="#1c1c1c" stroke-width="1.4" />
<line x1="1014.2" y1="594.7" x2="1014.2" y2="636" stroke="#1c1c1c" stroke-width="1.4" />
<line x1="802.6" y1="50" x2="802.6" y2="199.8" stroke="#1c1c1c" stroke-width="1.3" />
<path d="M730.1,700 L730.1,827 Q731,860 760,886 Q790,908 835,926 Q860,938 870.3,938.3 L873.4,941.5 L876.5,941.5 Q890,930 899.4,916.5 Q914,894 919.5,868.8 Q921,848 911.8,831.4 Q906,825.5 899.4,823.1 Q884,808 874.5,786.7 L870,700 Z" stroke="#1c1c1c" stroke-width="1.5" fill="#fff" />
<path d="M529,660.8 L722.5,575.5 L886.9,590.9 L1096,677.0 Q1106.5,681.5 1102,689.0 Q1100,691.5 1094,694.0 L858,790.1 Q843,800.0 828,793.9 L530,672.7 Q520,666.5 523.5,663.0 Z" stroke="#1c1c1c" stroke-width="1.4" fill="#fff" />
<path d="M529,655.3 L722.5,570 L886.9,585.4 L1096,671.5 Q1106.5,676 1102,683.5 Q1100,686 1094,688.5 L858,784.6 Q843,794.5 828,788.4 L530,667.2 Q520,661 523.5,657.5 Z" stroke="#1c1c1c" stroke-width="1.5" fill="#fff" />
<path d="M522.6,659 L522.6,664.5 M1103.3,680 L1103.3,686" stroke="#1c1c1c" stroke-width="1.2" fill="none" />
<g transform="rotate(3 804 655)">
<ellipse cx="804.5" cy="657" rx="137" ry="59" stroke="#222" stroke-width="1.1" fill="#fff" />
<path d="M670,640 L667.6,657 M938.5,640 L941.4,657" stroke="#222" stroke-width="1.1" fill="none" />
<ellipse cx="804.5" cy="643" rx="134" ry="59" stroke="#1c1c1c" stroke-width="1.5" fill="#fff" />
<ellipse cx="805" cy="643.5" rx="128.5" ry="55.5" stroke="#1c1c1c" stroke-width="1.3" fill="none" />
<ellipse cx="806" cy="648" rx="112" ry="46.5" stroke="#333" stroke-width="1.2" fill="none" />
<ellipse cx="806" cy="650" rx="108" ry="44" stroke="#333" stroke-width="1.1" fill="none" />
<path d="M916,640 Q926,655 912,672" stroke="#333" stroke-width="1.2" fill="none" />
</g>
<path d="M722.2,560 Q726,620 728.9,679 Q800,702 880.2,690 L887.6,560 Z" stroke="#fff" stroke-width="0.01" fill="#fff" />
<path d="M722.2,560 Q726,620 728.9,679" stroke="#1c1c1c" stroke-width="1.8" fill="none" />
<path d="M887.6,560 L880.3,689" stroke="#1c1c1c" stroke-width="1.8" fill="none" />
<g transform="rotate(3 804 655)">
<path d="M717,688.5 A134,59 0 0 0 893,687" stroke="#1c1c1c" stroke-width="2.0" fill="none" />
<path d="M717,683.5 A128.5,55.5 0 0 0 893,682" stroke="#1c1c1c" stroke-width="1.6" fill="none" />
<path d="M717,677 A112,46.5 0 0 0 893,676" stroke="#222" stroke-width="2.0" fill="none" />
</g>
<path d="M740.5,640 Q747,640.5 751.5,650.5 Q748,653 742,649.5 Q739,645 740.5,640 Z" stroke="#333" stroke-width="1.2" fill="none" />
<path d="M740,673 L740.5,664 Q748,665.5 752,676" stroke="#333" stroke-width="1.2" fill="none" />
<path d="M868.2,830.3 Q850,846 841.2,862.5 Q832.5,885 835,910.3 Q837,922 845,930.5" stroke="#333" stroke-width="1.0" fill="none" />
<path d="M868.2,830.3 Q873,831.5 876.5,832.4 Q884,837 893.1,839.7 Q902,841 907.7,839.7 Q910.5,837 908.7,833.5 Q905,827 899.4,823.1" stroke="#1c1c1c" stroke-width="1.4" fill="none" />
<ellipse cx="878.6" cy="881.2" rx="21.5" ry="33" stroke="#1c1c1c" stroke-width="1.6" fill="none" transform="rotate(14 878.6 881.2)" />
<path d="M884.5,851.5 Q895,880 862,905.5" stroke="#1c1c1c" stroke-width="1.5" fill="none" />
<path d="M887,849 Q902,856 901.5,884 Q899,904 884,913" stroke="#444" stroke-width="0.9" fill="none" />
<ellipse cx="877.6" cy="841.8" rx="2.6" ry="4.6" stroke="#222" stroke-width="1.2" fill="#fff" transform="rotate(20 877.6 841.8)" />
<ellipse cx="877.6" cy="923.8" rx="2.6" ry="4.6" stroke="#222" stroke-width="1.2" fill="#fff" transform="rotate(20 877.6 923.8)" />
<path d="M873,881.3 L1131.3,988.4 L1131.3,1108" stroke="#1c1c1c" stroke-width="1.2" fill="none" />
<line x1="825.6" y1="925" x2="825.6" y2="985" stroke="#1c1c1c" stroke-width="1.3" />
<ellipse cx="825.6" cy="946.6" rx="12.3" ry="6.8" stroke="#1a1a1a" stroke-width="2.2" fill="#fff" />
<ellipse cx="825.6" cy="946.2" rx="8.3" ry="4.2" stroke="#333" stroke-width="2.6" fill="#bbb" />
<ellipse cx="825.6" cy="946" rx="4.5" ry="2" stroke="#333" stroke-width="1.2" fill="#fff" />
<line x1="825.6" y1="940.5" x2="825.6" y2="945" stroke="#1c1c1c" stroke-width="1.2" />
<line x1="835" y1="953" x2="861" y2="965.3" stroke="#1c1c1c" stroke-width="1.3" />
<path d="M813.2,998 L813.2,1008.5 A11.9,6 0 0 0 837,1008.5 L837,998" stroke="#1c1c1c" stroke-width="1.4" fill="#fff" />
<ellipse cx="825.1" cy="998" rx="11.9" ry="5.6" stroke="#1c1c1c" stroke-width="1.4" fill="#fff" />
<path d="M818.8,997 L818.8,988 Q825.2,983.5 831.6,988 L831.6,997" stroke="#1c1c1c" stroke-width="1.4" fill="#fff" />
<path d="M819.3,989.5 Q825.2,992.5 831.1,989.5" stroke="#555" stroke-width="1.2" fill="none" />
<path d="M819.3,992.5 Q825.2,995.5 831.1,992.5" stroke="#555" stroke-width="1.2" fill="none" />
<path d="M819.3,995.5 Q825.2,998.5 831.1,995.5" stroke="#555" stroke-width="1.2" fill="none" />
<line x1="838.1" y1="1009" x2="865.1" y2="1020.4" stroke="#1c1c1c" stroke-width="1.3" />
<path d="M543.5,961.4 L543.5,856.6 L1131.3,1108" stroke="#1c1c1c" stroke-width="1.2" fill="none" />
<path d="M543.5,961.4 L556.5,967.3" stroke="#1c1c1c" stroke-width="1.1" fill="none" />
<line x1="543.7" y1="961.8" x2="692.6" y2="1025.7" stroke="#222" stroke-width="1.1" />
<line x1="1028.1" y1="1169.4" x2="1131.9" y2="1214.0" stroke="#222" stroke-width="1.1" />
<path d="M1131.9,1214.0 L1132.3,1214 L1132.3,1272" stroke="#1c1c1c" stroke-width="1.2" fill="none" />
<line x1="581.5" y1="1014.6" x2="616" y2="1014.6" stroke="#555" stroke-width="1.0" />
<line x1="628" y1="1006.8" x2="664" y2="1006.8" stroke="#888" stroke-width="0.9" />
<line x1="547" y1="973" x2="585" y2="982" stroke="#999" stroke-width="0.8" />
<line x1="573.6" y1="921" x2="573.6" y2="948.5" stroke="#1c1c1c" stroke-width="1.3" />
<path d="M640.6,934.5 L640.6,956.6 M612.6,963 L612.6,945.9 L668,968.7 L668,977" stroke="#1c1c1c" stroke-width="1.3" fill="none" />
<line x1="759.6" y1="1013" x2="759.6" y2="1043" stroke="#1c1c1c" stroke-width="1.3" />
<line x1="933.1" y1="1075.5" x2="933.1" y2="1103" stroke="#1c1c1c" stroke-width="1.3" />
<path d="M996.8,1088 L996.8,1104 M978.3,1113 L978.3,1093.8 L1016.1,1115 L1016.1,1138" stroke="#1c1c1c" stroke-width="1.3" fill="none" />
<line x1="1050" y1="1125" x2="1050" y2="1152" stroke="#1c1c1c" stroke-width="1.3" />
<path d="M1098.4,1143.7 L1098.4,1159 M1080.7,1169.5 L1080.7,1152 L1116.4,1167.3 L1116.4,1183.5" stroke="#1c1c1c" stroke-width="1.3" fill="none" />
<g transform="translate(563.9,970.5) rotate(23.2)">
<ellipse cx="0" cy="0" rx="15.84" ry="24" stroke="#1c1c1c" stroke-width="1.9" fill="none" />
<ellipse cx="0" cy="0" rx="13.40" ry="20.3" stroke="#1c1c1c" stroke-width="1.7" fill="none" />
<g transform="translate(1.5,2)">
<path d="M33,-25.5 Q43,-27.5 54,-22 L54,22 Q43,27.5 33,25.5 Q24,19 24,0 Q24,-19 33,-25.5 Z" stroke="#1c1c1c" stroke-width="1.5" fill="#fff"/>
<path d="M33.3,-25.3 L49,-20.4 L49,-16.4 L33.3,-20.3 Q30.3,-22.8 33.3,-25.3 Z" stroke="#1a1a1a" stroke-width="1.5" fill="#fff"/>
<path d="M31.2,-19.6 L49,-15.8 L49,-11.8 L31.2,-14.6 Q28.2,-17.1 31.2,-19.6 Z" stroke="#1a1a1a" stroke-width="1.5" fill="#fff"/>
<path d="M29.6,-13.9 L49,-11.2 L49,-7.2 L29.6,-8.9 Q26.6,-11.4 29.6,-13.9 Z" stroke="#1a1a1a" stroke-width="1.5" fill="#fff"/>
<path d="M28.5,-8.2 L49,-6.6 L49,-2.6 L28.5,-3.2 Q25.5,-5.7 28.5,-8.2 Z" stroke="#1a1a1a" stroke-width="1.5" fill="#fff"/>
<path d="M28.0,-2.5 L49,-2.0 L49,2.0 L28.0,2.5 Q25.0,0.0 28.0,-2.5 Z" stroke="#1a1a1a" stroke-width="1.5" fill="#fff"/>
<path d="M28.5,3.2 L49,2.6 L49,6.6 L28.5,8.2 Q25.5,5.7 28.5,3.2 Z" stroke="#1a1a1a" stroke-width="1.5" fill="#fff"/>
<path d="M29.6,8.9 L49,7.2 L49,11.2 L29.6,13.9 Q26.6,11.4 29.6,8.9 Z" stroke="#1a1a1a" stroke-width="1.5" fill="#fff"/>
<path d="M31.2,14.6 L49,11.8 L49,15.8 L31.2,19.6 Q28.2,17.1 31.2,14.6 Z" stroke="#1a1a1a" stroke-width="1.5" fill="#fff"/>
<path d="M33.3,20.3 L49,16.4 L49,20.4 L33.3,25.3 Q30.3,22.8 33.3,20.3 Z" stroke="#1a1a1a" stroke-width="1.5" fill="#fff"/>
<ellipse cx="52" cy="0" rx="13.95" ry="22.5" stroke="#1c1c1c" stroke-width="1.6" fill="#fff" />
<ellipse cx="54.8" cy="0" rx="13.12" ry="20.5" stroke="#1a1a1a" stroke-width="2.6" fill="#fff" />
<ellipse cx="55.5" cy="0" rx="10.75" ry="16.8" stroke="#1c1c1c" stroke-width="1.3" fill="#fff" />
<line x1="40" y1="0" x2="78" y2="0" stroke="#222" stroke-width="1.1"/>
</g>
<path d="M92.5,-36.5 L110,-36.5 L110,31.5 L92.5,31.5 A21.42,34 0 0 1 92.5,-36.5 Z" stroke="#1c1c1c" stroke-width="1.4" fill="#fff"/>
<ellipse cx="110" cy="-2.5" rx="21.42" ry="34" stroke="#1c1c1c" stroke-width="1.4" fill="#fff" />
<ellipse cx="110" cy="-2.5" rx="19.53" ry="31" stroke="#1c1c1c" stroke-width="1.7" fill="none" />
<ellipse cx="110" cy="-2.5" rx="18.27" ry="29" stroke="#333" stroke-width="1.1" fill="none" />
<path d="M113,-29 A17,27.5 0 0 1 113,24" stroke="#222" stroke-width="1.4" fill="none"/>
<line x1="88" y1="-10" x2="131" y2="3" stroke="#222" stroke-width="1.0"/>
<g transform="translate(-2,2)">
<path d="M148,-11.5 Q140,-11.5 140,0 Q140,11.5 148,11.5 L152,11.5 Q152,19 161,20 Q176,18.5 177,9 L184,9 L184,-9 L177,-9 Q176,-18.5 161,-20 Q152,-19 152,-11.5 Z" stroke="#1c1c1c" stroke-width="1.4" fill="#fff"/>
<path d="M152,-11.5 Q157,0 152,11.5 M155.5,-18.5 Q164,0 155.5,18.5 M158,-19.5 Q167,0 158,19.5" stroke="#333" stroke-width="1.0" fill="none"/>
<path d="M177,-9 Q182,0 177,9" stroke="#333" stroke-width="1.1" fill="none"/>
</g>
<path d="M188,-21 L191.5,-21 L191.5,21 L188,21 A13,21 0 0 1 188,-21 Z" stroke="#1c1c1c" stroke-width="1.4" fill="#fff"/>
<ellipse cx="191.5" cy="0" rx="13.23" ry="21" stroke="#1c1c1c" stroke-width="1.5" fill="#fff" />
<ellipse cx="189.5" cy="0" rx="13.23" ry="21" stroke="#333" stroke-width="1.0" fill="none" />
<path d="M196,-17 L206,-16 L206,16 L196,17" stroke="#1c1c1c" stroke-width="1.3" fill="#fff"/>
<path d="M196,-17 A10.5,17 0 0 0 196,17" stroke="#333" stroke-width="1.1" fill="none"/>
<path d="M202,-16 L228,-16 L230,-13 L230,13 L228,16 L202,16 A10,16 0 0 1 202,-16 Z" fill="#fff" stroke="#1c1c1c" stroke-width="1.4"/>
<line x1="199.2" y1="-12.5" x2="229" y2="-12.5" stroke="#222" stroke-width="2.0" stroke-linecap="butt"/>
<line x1="201.5" y1="-8.5" x2="229" y2="-8.5" stroke="#222" stroke-width="2.0" stroke-linecap="butt"/>
<line x1="202.6" y1="-4.5" x2="229" y2="-4.5" stroke="#222" stroke-width="2.0" stroke-linecap="butt"/>
<line x1="203.0" y1="-0.5" x2="229" y2="-0.5" stroke="#222" stroke-width="2.0" stroke-linecap="butt"/>
<line x1="202.8" y1="3.5" x2="229" y2="3.5" stroke="#222" stroke-width="2.0" stroke-linecap="butt"/>
<line x1="201.8" y1="7.5" x2="229" y2="7.5" stroke="#222" stroke-width="2.0" stroke-linecap="butt"/>
<line x1="200.0" y1="11.5" x2="229" y2="11.5" stroke="#222" stroke-width="2.0" stroke-linecap="butt"/>
<path d="M214,-16 A10,16 0 0 1 214,16" stroke="#fff" stroke-width="1.4" fill="none"/>
<path d="M230,-13.4 L253,-13.4 L253,13.4 L230,13.4" stroke="#1c1c1c" stroke-width="1.4" fill="#fff"/>
<path d="M253,-13.4 A8.5,13.4 0 0 1 253,13.4" stroke="#1c1c1c" stroke-width="1.3" fill="#fff"/>
<path d="M258,-10.8 L271,-10.8 L271,10.8 L259,10.8" stroke="#1c1c1c" stroke-width="1.4" fill="#fff"/>
<path d="M269.5,-12.7 L313,-12.7 Q319.5,-10 320.5,0 Q319.5,10 313,12.7 L269.5,12.7 A8,12.7 0 0 0 269.5,-12.7 Z" stroke="#111" stroke-width="1.2" fill="#1c1c1c"/>
<line x1="275" y1="-8.5" x2="312" y2="-8.5" stroke="#8a8a8a" stroke-width="0.7" stroke-dasharray="5 2"/>
<line x1="275" y1="-4" x2="312" y2="-4" stroke="#8a8a8a" stroke-width="0.7" stroke-dasharray="5 2"/>
<line x1="275" y1="0.5" x2="312" y2="0.5" stroke="#8a8a8a" stroke-width="0.7" stroke-dasharray="5 2"/>
<line x1="275" y1="5" x2="312" y2="5" stroke="#8a8a8a" stroke-width="0.7" stroke-dasharray="5 2"/>
<line x1="275" y1="9.5" x2="312" y2="9.5" stroke="#8a8a8a" stroke-width="0.7" stroke-dasharray="5 2"/>
<ellipse cx="317" cy="0" rx="4.5" ry="8.5" fill="#aaa" stroke="#222" stroke-width="1.2"/>
<path d="M319.5,-4 L327,-4 Q330,0 327,4 L319.5,4" fill="#fff" stroke="#222" stroke-width="1.3"/>
<ellipse cx="364" cy="0" rx="21.96" ry="36.6" stroke="#111" stroke-width="4.6" fill="#fff" stroke-dasharray="2.6 1.3" stroke-linecap="butt"/>
<ellipse cx="364" cy="0" rx="23.40" ry="39" stroke="#222" stroke-width="1.0" fill="none" />
<ellipse cx="368" cy="0" rx="20.70" ry="34.5" stroke="#1c1c1c" stroke-width="1.5" fill="#fff" />
<path d="M371,-30.5 Q376,-27.5 382,-26.4 L392,-26.4 L392,26.4 L382,26.4 Q376,27.5 371,30.5 A18,30.5 0 0 1 371,-30.5 Z" stroke="#1c1c1c" stroke-width="1.4" fill="#fff"/>
<path d="M382,-26.4 A15.5,26.4 0 0 0 382,26.4" stroke="#333" stroke-width="1.2" fill="none"/>
<ellipse cx="392" cy="0" rx="15.31" ry="26.4" stroke="#1c1c1c" stroke-width="1.6" fill="#fff" />
<ellipse cx="390" cy="0" rx="15.31" ry="26.4" stroke="#888" stroke-width="2.4" fill="none" stroke-dasharray="0.8 1.2" stroke-linecap="butt"/>
<ellipse cx="392" cy="0" rx="15.31" ry="26.4" stroke="#1c1c1c" stroke-width="1.6" fill="#fff" />
<ellipse cx="392.5" cy="0" rx="8.99" ry="14.5" stroke="#1c1c1c" stroke-width="1.4" fill="#555" />
<line x1="387.4" y1="-11" x2="397.6" y2="-12.5" stroke="#ddd" stroke-width="1.0"/>
<line x1="385.6" y1="-7.5" x2="399.4" y2="-9.0" stroke="#ddd" stroke-width="1.0"/>
<line x1="384.6" y1="-4" x2="400.4" y2="-5.5" stroke="#ddd" stroke-width="1.0"/>
<line x1="384.3" y1="-0.5" x2="400.7" y2="-2.0" stroke="#ddd" stroke-width="1.0"/>
<line x1="384.5" y1="3" x2="400.5" y2="1.5" stroke="#ddd" stroke-width="1.0"/>
<line x1="385.3" y1="6.5" x2="399.7" y2="5.0" stroke="#ddd" stroke-width="1.0"/>
<line x1="386.8" y1="10" x2="398.2" y2="8.5" stroke="#ddd" stroke-width="1.0"/>
<ellipse cx="392.5" cy="0" rx="8.99" ry="14.5" stroke="#1c1c1c" stroke-width="1.6" fill="none" />
<path d="M430.6,-34 L446.3,-34 L446.3,34 L430.6,34 A21.42,34 0 0 1 430.6,-34 Z" stroke="#1c1c1c" stroke-width="1.4" fill="#fff"/>
<ellipse cx="446.3" cy="0" rx="21.42" ry="34" stroke="#1c1c1c" stroke-width="1.4" fill="#fff" />
<ellipse cx="446.3" cy="0" rx="19.53" ry="31" stroke="#1c1c1c" stroke-width="1.7" fill="none" />
<ellipse cx="446.3" cy="0" rx="18.27" ry="29" stroke="#333" stroke-width="1.1" fill="none" />
<path d="M449,-28 A17,27.5 0 0 1 449,26" stroke="#222" stroke-width="1.4" fill="none"/>
<line x1="434" y1="0" x2="470" y2="0" stroke="#222" stroke-width="1.1"/>
<path d="M461,-19 L482,-27 Q493,-27 493,0 Q493,27 482,27 L461,19 A4,19 0 0 1 461,-19 Z" stroke="#1c1c1c" stroke-width="1.4" fill="#fff"/>
<path d="M461,-19.1 L480,-24.9 Q483,-22.4 480,-19.9 L461,-15.3 Q458.5,-17.2 461,-19.1 Z" stroke="#1a1a1a" stroke-width="1.4" fill="#fff"/>
<path d="M461,-14.8 L480,-19.3 Q483,-16.8 480,-14.3 L461,-11.0 Q458.5,-12.9 461,-14.8 Z" stroke="#1a1a1a" stroke-width="1.4" fill="#fff"/>
<path d="M461,-10.5 L480,-13.7 Q483,-11.2 480,-8.7 L461,-6.7 Q458.5,-8.6 461,-10.5 Z" stroke="#1a1a1a" stroke-width="1.4" fill="#fff"/>
<path d="M461,-6.2 L480,-8.1 Q483,-5.6 480,-3.1 L461,-2.4 Q458.5,-4.3 461,-6.2 Z" stroke="#1a1a1a" stroke-width="1.4" fill="#fff"/>
<path d="M461,-1.9 L480,-2.5 Q483,0.0 480,2.5 L461,1.9 Q458.5,0.0 461,-1.9 Z" stroke="#1a1a1a" stroke-width="1.4" fill="#fff"/>
<path d="M461,2.4 L480,3.1 Q483,5.6 480,8.1 L461,6.2 Q458.5,4.3 461,2.4 Z" stroke="#1a1a1a" stroke-width="1.4" fill="#fff"/>
<path d="M461,6.7 L480,8.7 Q483,11.2 480,13.7 L461,10.5 Q458.5,8.6 461,6.7 Z" stroke="#1a1a1a" stroke-width="1.4" fill="#fff"/>
<path d="M461,11.0 L480,14.3 Q483,16.8 480,19.3 L461,14.8 Q458.5,12.9 461,11.0 Z" stroke="#1a1a1a" stroke-width="1.4" fill="#fff"/>
<path d="M461,15.3 L480,19.9 Q483,22.4 480,24.9 L461,19.1 Q458.5,17.2 461,15.3 Z" stroke="#1a1a1a" stroke-width="1.4" fill="#fff"/>
<ellipse cx="485" cy="0" rx="16.74" ry="27" stroke="#1c1c1c" stroke-width="1.4" fill="#fff" />
<ellipse cx="499.2" cy="5.8" rx="2.9" ry="3.7" fill="#fff" stroke="#1a1a1a" stroke-width="1.4"/>
<ellipse cx="495.9" cy="15.8" rx="2.9" ry="3.7" fill="#fff" stroke="#1a1a1a" stroke-width="1.4"/>
<ellipse cx="490.1" cy="22.1" rx="2.9" ry="3.7" fill="#fff" stroke="#1a1a1a" stroke-width="1.4"/>
<ellipse cx="483.1" cy="23.4" rx="2.9" ry="3.7" fill="#fff" stroke="#1a1a1a" stroke-width="1.4"/>
<ellipse cx="476.6" cy="19.3" rx="2.9" ry="3.7" fill="#fff" stroke="#1a1a1a" stroke-width="1.4"/>
<ellipse cx="472.0" cy="10.8" rx="2.9" ry="3.7" fill="#fff" stroke="#1a1a1a" stroke-width="1.4"/>
<ellipse cx="470.4" cy="-0.2" rx="2.9" ry="3.7" fill="#fff" stroke="#1a1a1a" stroke-width="1.4"/>
<ellipse cx="472.1" cy="-11.1" rx="2.9" ry="3.7" fill="#fff" stroke="#1a1a1a" stroke-width="1.4"/>
<ellipse cx="476.8" cy="-19.5" rx="2.9" ry="3.7" fill="#fff" stroke="#1a1a1a" stroke-width="1.4"/>
<ellipse cx="483.4" cy="-23.5" rx="2.9" ry="3.7" fill="#fff" stroke="#1a1a1a" stroke-width="1.4"/>
<ellipse cx="490.3" cy="-22.0" rx="2.9" ry="3.7" fill="#fff" stroke="#1a1a1a" stroke-width="1.4"/>
<ellipse cx="496.0" cy="-15.5" rx="2.9" ry="3.7" fill="#fff" stroke="#1a1a1a" stroke-width="1.4"/>
<ellipse cx="499.2" cy="-5.5" rx="2.9" ry="3.7" fill="#fff" stroke="#1a1a1a" stroke-width="1.4"/>
<ellipse cx="487" cy="0" rx="12.54" ry="19.6" stroke="#1a1a1a" stroke-width="2.6" fill="#fff" />
<ellipse cx="488" cy="0" rx="10.24" ry="16.0" stroke="#1c1c1c" stroke-width="1.3" fill="#fff" />
<line x1="476" y1="0" x2="512" y2="0" stroke="#222" stroke-width="1.1"/>
<ellipse cx="525.2" cy="0" rx="17.03" ry="26" stroke="#1c1c1c" stroke-width="2.2" fill="none" />
<ellipse cx="525.2" cy="0" rx="13.95" ry="21.3" stroke="#1c1c1c" stroke-width="2.0" fill="none" />
<path d="M553.5,-23 L558.5,-23 L558.5,23 L553.5,23 A15.5,23 0 0 1 553.5,-23 Z" stroke="#1c1c1c" stroke-width="1.6" fill="#fff"/>
<ellipse cx="558.5" cy="0" rx="15.64" ry="23" stroke="#1c1c1c" stroke-width="1.7" fill="#fff" />
<ellipse cx="558.5" cy="0" rx="13.46" ry="19.8" stroke="#333" stroke-width="1.2" fill="none" />
<ellipse cx="559.0" cy="0" rx="11.22" ry="16.5" stroke="#1a1a1a" stroke-width="3.2" fill="#fff" />
<path d="M562.5,-14 A10,15.5 0 0 1 562.5,14" stroke="#333" stroke-width="1.8" fill="none"/>
<line x1="550.5" y1="0" x2="570.5" y2="0" stroke="#222" stroke-width="1.1"/>
<path d="M589,-23 L594,-23 L594,23 L589,23 A15.5,23 0 0 1 589,-23 Z" stroke="#1c1c1c" stroke-width="1.6" fill="#fff"/>
<ellipse cx="594" cy="0" rx="15.64" ry="23" stroke="#1c1c1c" stroke-width="1.7" fill="#fff" />
<ellipse cx="594" cy="0" rx="13.46" ry="19.8" stroke="#333" stroke-width="1.2" fill="none" />
<ellipse cx="594.5" cy="0" rx="11.22" ry="16.5" stroke="#1a1a1a" stroke-width="3.2" fill="#fff" />
<path d="M598,-14 A10,15.5 0 0 1 598,14" stroke="#333" stroke-width="1.8" fill="none"/>
<line x1="586" y1="0" x2="606" y2="0" stroke="#222" stroke-width="1.1"/>
</g>
<path d="M608.7,1202.7 L608.7,1063.4 L1132.3,1272" stroke="#1c1c1c" stroke-width="1.2" fill="none" />
<line x1="608.7" y1="1202.7" x2="756.5" y2="1263.9" stroke="#222" stroke-width="1.1" />
<line x1="844.3" y1="1300.3" x2="885.9" y2="1317.5" stroke="#222" stroke-width="1.1" />
<line x1="945.9" y1="1342.4" x2="1007.8" y2="1368.0" stroke="#222" stroke-width="1.1" />
<path d="M719.8,1167.4 L719.8,1182 M702.1,1192.3 L702.1,1174.2 L738.1,1190.2 L738.1,1208" stroke="#1c1c1c" stroke-width="1.3" fill="none" />
<line x1="811.7" y1="1198.5" x2="811.7" y2="1224" stroke="#1c1c1c" stroke-width="1.3" />
<line x1="855.4" y1="1222.4" x2="855.4" y2="1251" stroke="#1c1c1c" stroke-width="1.3" />
<line x1="929.7" y1="1260.6" x2="929.7" y2="1285" stroke="#1c1c1c" stroke-width="1.3" />
<line x1="983.7" y1="1298" x2="983.7" y2="1326.5" stroke="#1c1c1c" stroke-width="1.3" />
<line x1="1028.5" y1="1334.6" x2="1028.5" y2="1360" stroke="#1c1c1c" stroke-width="1.3" />
<g transform="translate(608.7,1202.7) rotate(22.5)">
<ellipse cx="84.5" cy="-1.5" rx="27.95" ry="43" stroke="#111" stroke-width="2.7" fill="none" />
<ellipse cx="127" cy="0" rx="27.95" ry="43" stroke="#111" stroke-width="2.6" fill="none" />
<ellipse cx="189" cy="0" rx="28.04" ry="44.5" stroke="#1c1c1c" stroke-width="1.4" fill="#fff" />
<ellipse cx="190.5" cy="0" rx="27.09" ry="43" stroke="#333" stroke-width="3.2" fill="none" stroke-dasharray="1.3 1.2" stroke-linecap="butt"/>
<ellipse cx="192" cy="0" rx="26.14" ry="41.5" stroke="#1c1c1c" stroke-width="1.4" fill="#fff" />
</g>
<path d="M782.1,1225.5 Q784,1221 788.7,1219.9 Q795,1217.5 799.8,1218.3 Q806,1220 810.9,1223.8 L817.5,1228.8 Q821,1236 824.2,1242.1 Q830,1246.5 834.1,1250.9 Q837,1259 838.6,1272 L840,1300 Q830,1318 815.3,1321.8 Q813,1330 808.7,1332.9 Q805,1335 802,1334 L787.6,1327.4 Q785,1325.5 784.3,1321.8 Q778,1311 775.4,1288.6 Q774.5,1270 776.5,1255.4 Q778,1240 782.1,1225.5 Z" stroke="#1c1c1c" stroke-width="1.4" fill="#fff" />
<path d="M782.1,1225.5 Q792,1231 802,1231 Q808,1226 810.9,1223.8" stroke="#1c1c1c" stroke-width="1.2" fill="none" />
<path d="M802,1231 Q803,1238 806,1244 Q800,1252 797,1262" stroke="#1c1c1c" stroke-width="1.2" fill="none" />
<ellipse cx="810.3" cy="1237.1" rx="2.8" ry="3.6" stroke="#222" stroke-width="1.3" fill="#fff" transform="rotate(20 810.3 1237.1)" />
<ellipse cx="807.6" cy="1325.1" rx="2.8" ry="3.8" stroke="#222" stroke-width="1.3" fill="#fff" transform="rotate(20 807.6 1325.1)" />
<path d="M785.5,1321.5 L798,1327.5 M787,1317.5 L799.5,1323.5" stroke="#333" stroke-width="1.1" fill="none" />
<path d="M813,1237.5 L823,1242.5 Q830,1247 834,1251" stroke="#1c1c1c" stroke-width="1.2" fill="none" />
<g transform="translate(608.7,1202.7) rotate(22.5)">
<ellipse cx="213" cy="0" rx="20.46" ry="33" stroke="#1c1c1c" stroke-width="1.5" fill="#fff" />
<ellipse cx="217" cy="0" rx="17.67" ry="28.5" stroke="#1c1c1c" stroke-width="1.4" fill="#fff" />
<ellipse cx="218.5" cy="0" rx="16.43" ry="26.5" stroke="#222" stroke-width="3.0" fill="none" stroke-dasharray="2.4 1.8" stroke-linecap="butt"/>
<ellipse cx="219.5" cy="0" rx="15.19" ry="24.5" stroke="#1c1c1c" stroke-width="1.5" fill="#fff" />
<path d="M219,-21.3 L243,-21.3 L243,21.3 L219,21.3 A13.5,21.3 0 0 1 219,-21.3 Z" stroke="#1c1c1c" stroke-width="1.4" fill="#fff"/>
<ellipse cx="243" cy="0" rx="13.63" ry="21.3" stroke="#1c1c1c" stroke-width="1.5" fill="#fff" />
<ellipse cx="243" cy="0" rx="12.16" ry="19" stroke="#444" stroke-width="1.0" fill="none" />
<ellipse cx="243.5" cy="0" rx="10.75" ry="16.8" stroke="#1c1c1c" stroke-width="1.5" fill="#fff" />
<path d="M246,-15.5 A9.5,15.5 0 0 1 246,15" stroke="#333" stroke-width="1.2" fill="none"/>
<line x1="234" y1="0" x2="256" y2="0" stroke="#222" stroke-width="1.1"/>
<path d="M234,-49 L264,-49 L264,-41.8 L234,-41.8 Q230.5,-45.4 234,-49 Z" stroke="#1c1c1c" stroke-width="1.3" fill="#fff"/>
<line x1="236" y1="-48.5" x2="237.5" y2="-42.3" stroke="#555" stroke-width="1.4"/>
<line x1="239" y1="-48.5" x2="240.5" y2="-42.3" stroke="#555" stroke-width="1.4"/>
<line x1="242" y1="-48.5" x2="243.5" y2="-42.3" stroke="#555" stroke-width="1.4"/>
<line x1="245" y1="-48.5" x2="246.5" y2="-42.3" stroke="#555" stroke-width="1.4"/>
<line x1="248" y1="-48.5" x2="249.5" y2="-42.3" stroke="#555" stroke-width="1.4"/>
<line x1="251" y1="-48.5" x2="252.5" y2="-42.3" stroke="#555" stroke-width="1.4"/>
<line x1="254" y1="-48.5" x2="255.5" y2="-42.3" stroke="#555" stroke-width="1.4"/>
<line x1="257" y1="-48.5" x2="258.5" y2="-42.3" stroke="#555" stroke-width="1.4"/>
<path d="M264,-51.5 L277,-51.5 L277,-39.3 L264,-39.3 A3.8,6.1 0 0 1 264,-51.5 Z" stroke="#1c1c1c" stroke-width="1.4" fill="#fff"/>
<ellipse cx="277" cy="-45.4" rx="3.78" ry="6.1" stroke="#1c1c1c" stroke-width="1.5" fill="#fff" />
<ellipse cx="277.5" cy="-45.4" rx="1.86" ry="3" stroke="#333" stroke-width="1.2" fill="#ddd" />
</g>
<path d="M913.1,1271.4 L906.4,1276.4 Q900,1286 894.8,1296.3 Q887,1305 883.2,1313 Q878,1322 878.2,1332.9 Q878,1344 881.5,1352.8 Q886,1361 894.8,1366.1 L903.1,1371.1 Q904,1375 906.4,1376.1 Q910,1377.5 913.1,1376.9 Q916,1375 916.4,1371.9 Q940,1372 952,1350 Q958,1335 956.3,1316.3 Q956,1308 953,1303 Q948,1297 943,1293 L929.7,1284.7 Q922,1278 916.4,1273.9 Z" stroke="#1c1c1c" stroke-width="1.4" fill="#fff" />
<g transform="translate(608.7,1202.7) rotate(22.5)">
<ellipse cx="344.7" cy="0" rx="25.83" ry="41" stroke="#1c1c1c" stroke-width="1.4" fill="#fff" />
<ellipse cx="345" cy="0" rx="23.94" ry="38" stroke="#444" stroke-width="1.0" fill="none" />
<ellipse cx="345.5" cy="0" rx="22.36" ry="35.5" stroke="#1c1c1c" stroke-width="1.5" fill="#fff" />
<path d="M344.5,-33.1 A21.7,34.5 0 0 1 341.5,33.5" stroke="#333" stroke-width="1.1" fill="none"/>
<path d="M338.5,-33.1 A21.7,34.5 0 0 1 335.5,33.5" stroke="#333" stroke-width="1.1" fill="none"/>
<path d="M332.5,-33.1 A21.7,34.5 0 0 1 329.5,33.5" stroke="#333" stroke-width="1.1" fill="none"/>
<line x1="340" y1="-33" x2="366" y2="-20" stroke="#333" stroke-width="1.0"/>
<line x1="325" y1="0" x2="368" y2="0" stroke="#222" stroke-width="1.0"/>
<path d="M373,-29.4 L394,-29.4 L394,-23.4 L373,-23.4 Q369.5,-26.4 373,-29.4 Z" stroke="#1c1c1c" stroke-width="1.3" fill="#fff"/>
<line x1="375" y1="-29" x2="376.3" y2="-23.8" stroke="#555" stroke-width="1.3"/>
<line x1="378" y1="-29" x2="379.3" y2="-23.8" stroke="#555" stroke-width="1.3"/>
<line x1="381" y1="-29" x2="382.3" y2="-23.8" stroke="#555" stroke-width="1.3"/>
<line x1="384" y1="-29" x2="385.3" y2="-23.8" stroke="#555" stroke-width="1.3"/>
<line x1="387" y1="-29" x2="388.3" y2="-23.8" stroke="#555" stroke-width="1.3"/>
<line x1="390" y1="-29" x2="391.3" y2="-23.8" stroke="#555" stroke-width="1.3"/>
<path d="M394,-32 L403,-32 L403,-20.8 L394,-20.8 A3.4,5.6 0 0 1 394,-32 Z" stroke="#1c1c1c" stroke-width="1.4" fill="#fff"/>
<ellipse cx="403" cy="-26.4" rx="3.47" ry="5.6" stroke="#1c1c1c" stroke-width="1.5" fill="#fff" />
<ellipse cx="403.3" cy="-26.4" rx="1.61" ry="2.6" stroke="#333" stroke-width="1.1" fill="#ddd" />
<path d="M432,-14.5 L461,-14.5 L461,14.5 L432,14.5 A9.3,14.5 0 0 1 432,-14.5 Z" stroke="#1c1c1c" stroke-width="1.4" fill="#fff"/>
<ellipse cx="461" cy="0" rx="9.28" ry="14.5" stroke="#1c1c1c" stroke-width="1.5" fill="#fff" />
<ellipse cx="461.3" cy="0" rx="7.68" ry="12" stroke="#1c1c1c" stroke-width="1.6" fill="#fff" />
<path d="M458.5,-10 A7,11.5 0 0 0 458.5,10.5" stroke="#333" stroke-width="1.1" fill="none"/>
</g>
<defs><filter id="idf" x="-5%" y="-5%" width="110%" height="110%"><feOffset dx="0" dy="0"/></filter></defs><g filter="url(#idf)">
<text x="322.9" y="281" font-size="23" fill="#262626" text-anchor="middle" font-weight="normal" stroke="#fff" stroke-width="0.35" paint-order="fill">24</text>
<text x="335.5" y="371.5" font-size="23" fill="#262626" text-anchor="middle" font-weight="normal" stroke="#fff" stroke-width="0.35" paint-order="fill">7</text>
<text x="328.4" y="445.4" font-size="23" fill="#262626" text-anchor="middle" font-weight="normal" stroke="#fff" stroke-width="0.35" paint-order="fill">6</text>
<text x="335.6" y="533.3" font-size="23" fill="#262626" text-anchor="middle" font-weight="normal" stroke="#fff" stroke-width="0.35" paint-order="fill">5</text>
<text x="330.3" y="1205.6" font-size="23" fill="#262626" text-anchor="middle" font-weight="normal" stroke="#fff" stroke-width="0.35" paint-order="fill">9</text>
<text x="326.5" y="1270" font-size="23" fill="#262626" text-anchor="middle" font-weight="normal" stroke="#fff" stroke-width="0.35" paint-order="fill">10</text>
<text x="995.5" y="197.3" font-size="23" fill="#262626" text-anchor="middle" font-weight="normal" stroke="#fff" stroke-width="0.35" paint-order="fill">23</text>
<text x="604" y="417.3" font-size="23" fill="#262626" text-anchor="middle" font-weight="normal" stroke="#fff" stroke-width="0.35" paint-order="fill">25</text>
<text x="619" y="510.4" font-size="23" fill="#262626" text-anchor="middle" font-weight="normal" stroke="#fff" stroke-width="0.35" paint-order="fill">26</text>
<text x="698.2" y="505.8" font-size="23" fill="#262626" text-anchor="middle" font-weight="normal" stroke="#fff" stroke-width="0.35" paint-order="fill">27</text>
<text x="911.4" y="503.4" font-size="23" fill="#262626" text-anchor="middle" font-weight="normal" stroke="#fff" stroke-width="0.35" paint-order="fill">28</text>
<text x="942.7" y="543" font-size="23" fill="#262626" text-anchor="middle" font-weight="normal" stroke="#fff" stroke-width="0.35" paint-order="fill">29</text>
<text x="1014.4" y="591.6" font-size="23" fill="#262626" text-anchor="middle" font-weight="normal" stroke="#fff" stroke-width="0.35" paint-order="fill">30</text>
<text x="575.6" y="915.8" font-size="23" fill="#262626" text-anchor="middle" font-weight="normal" stroke="#fff" stroke-width="0.35" paint-order="fill">14</text>
<text x="640.3" y="929.3" font-size="23" fill="#262626" text-anchor="middle" font-weight="normal" stroke="#fff" stroke-width="0.35" paint-order="fill">13</text>
<text x="760.5" y="1005.8" font-size="23" fill="#262626" text-anchor="middle" font-weight="normal" stroke="#fff" stroke-width="0.35" paint-order="fill">12</text>
<text x="874.4" y="984" font-size="23" fill="#262626" text-anchor="middle" font-weight="normal" stroke="#fff" stroke-width="0.35" paint-order="fill">21</text>
<text x="879.6" y="1039" font-size="23" fill="#262626" text-anchor="middle" font-weight="normal" stroke="#fff" stroke-width="0.35" paint-order="fill">22</text>
<text x="934.6" y="1070.3" font-size="23" fill="#262626" text-anchor="middle" font-weight="normal" stroke="#fff" stroke-width="0.35" paint-order="fill">10</text>
<text x="993.8" y="1082.8" font-size="23" fill="#262626" text-anchor="middle" font-weight="normal" stroke="#fff" stroke-width="0.35" paint-order="fill">13</text>
<text x="1046.1" y="1116.7" font-size="23" fill="#262626" text-anchor="middle" font-weight="normal" stroke="#fff" stroke-width="0.35" paint-order="fill">14</text>
<text x="1098" y="1136.8" font-size="23" fill="#262626" text-anchor="middle" font-weight="normal" stroke="#fff" stroke-width="0.35" paint-order="fill">15</text>
<text x="719.9" y="1160.1" font-size="23" fill="#262626" text-anchor="middle" font-weight="normal" stroke="#fff" stroke-width="0.35" paint-order="fill">16</text>
<text x="812.7" y="1192.3" font-size="23" fill="#262626" text-anchor="middle" font-weight="normal" stroke="#fff" stroke-width="0.35" paint-order="fill">3</text>
<text x="856.9" y="1215.5" font-size="23" fill="#262626" text-anchor="middle" font-weight="normal" stroke="#fff" stroke-width="0.35" paint-order="fill">20</text>
<text x="931" y="1257.3" font-size="23" fill="#262626" text-anchor="middle" font-weight="normal" stroke="#fff" stroke-width="0.35" paint-order="fill">17</text>
<text x="985.8" y="1289.7" font-size="23" fill="#262626" text-anchor="middle" font-weight="normal" stroke="#fff" stroke-width="0.35" paint-order="fill">19</text>
<text x="1030.2" y="1328.7" font-size="23" fill="#262626" text-anchor="middle" font-weight="normal" stroke="#fff" stroke-width="0.35" paint-order="fill">18</text>
<text x="327.8" y="327" font-size="23" fill="#b4b4b4" text-anchor="middle" font-weight="normal" stroke="#fff" stroke-width="0.35" paint-order="fill">8</text>
<text x="341" y="1138" font-size="23" fill="#b4b4b4" text-anchor="middle" font-weight="normal" stroke="#fff" stroke-width="0.35" paint-order="fill">4A</text>
<text x="346.8" y="1318" font-size="23" fill="#b4b4b4" text-anchor="middle" font-weight="normal" stroke="#fff" stroke-width="0.35" paint-order="fill">11</text>
<text x="942" y="432.5" font-size="23" fill="#b4b4b4" text-anchor="middle" font-weight="normal" stroke="#fff" stroke-width="0.35" paint-order="fill">2</text>
<text x="1000" y="460.8" font-size="23" fill="#b4b4b4" text-anchor="middle" font-weight="normal" stroke="#fff" stroke-width="0.35" paint-order="fill">1</text>
<text x="350.5" y="800.4" font-size="22" fill="#111" text-anchor="middle" stroke="#111" stroke-width="0.3">4</text>
</g>
</g>
</svg></body></html>
